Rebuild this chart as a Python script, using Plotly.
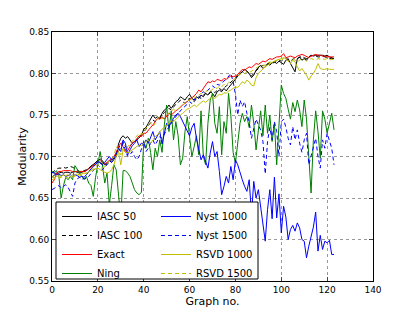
import plotly.graph_objects as go

graph_no = list(range(124))

iasc_50 = [0.675,0.678,0.680,0.680,0.681,0.680,0.681,0.681,0.680,0.681,0.682,0.681,0.680,0.681,0.682,0.683,0.686,0.688,0.690,0.692,
           0.695,0.697,0.695,0.690,0.692,0.695,0.693,0.696,0.700,0.715,0.722,0.725,0.722,0.724,0.720,0.716,0.718,0.720,0.722,0.725,
           0.733,0.735,0.740,0.745,0.750,0.746,0.748,0.745,0.752,0.756,0.758,0.762,0.758,0.762,0.766,0.768,0.772,0.770,0.768,0.772,
           0.775,0.770,0.768,0.772,0.770,0.774,0.772,0.776,0.774,0.778,0.776,0.772,0.778,0.780,0.778,0.782,0.779,0.783,0.786,0.790,
           0.793,0.797,0.800,0.803,0.805,0.803,0.800,0.795,0.798,0.804,0.807,0.810,0.806,0.808,0.812,0.810,0.813,0.814,0.812,0.815,
           0.813,0.811,0.816,0.818,0.812,0.806,0.802,0.818,0.820,0.816,0.818,0.816,0.820,0.822,0.821,0.822,0.822,0.822,0.822,0.821,
           0.822,0.820,0.819,0.818]

iasc_100 = [0.680,0.683,0.685,0.686,0.686,0.687,0.686,0.687,0.688,0.687,0.685,0.683,0.682,0.682,0.683,0.684,0.686,0.688,0.690,0.693,
            0.695,0.693,0.690,0.688,0.690,0.694,0.696,0.698,0.702,0.710,0.715,0.718,0.712,0.710,0.713,0.715,0.717,0.720,0.723,0.726,
            0.730,0.733,0.737,0.740,0.744,0.742,0.745,0.748,0.750,0.753,0.755,0.758,0.756,0.760,0.763,0.765,0.768,0.766,0.764,0.768,
            0.770,0.768,0.766,0.770,0.772,0.770,0.774,0.776,0.774,0.777,0.779,0.777,0.780,0.782,0.780,0.783,0.785,0.787,0.789,0.792,
            0.795,0.798,0.800,0.802,0.801,0.803,0.799,0.797,0.800,0.804,0.806,0.808,0.810,0.809,0.811,0.813,0.812,0.814,0.815,0.816,
            0.815,0.817,0.818,0.816,0.815,0.817,0.819,0.818,0.820,0.821,0.819,0.818,0.820,0.821,0.822,0.821,0.820,0.820,0.821,0.820,
            0.819,0.818,0.818,0.818]

exact = [0.668,0.672,0.680,0.682,0.682,0.683,0.683,0.683,0.683,0.682,0.682,0.682,0.682,0.682,0.682,0.683,0.685,0.687,0.690,0.692,
         0.694,0.695,0.693,0.691,0.693,0.695,0.697,0.700,0.705,0.712,0.716,0.712,0.705,0.707,0.712,0.716,0.718,0.722,0.725,0.724,
         0.728,0.728,0.732,0.735,0.738,0.742,0.746,0.745,0.748,0.745,0.748,0.752,0.750,0.753,0.755,0.757,0.760,0.762,0.764,0.766,
         0.768,0.770,0.773,0.776,0.780,0.778,0.782,0.786,0.790,0.789,0.791,0.790,0.793,0.792,0.791,0.794,0.793,0.795,0.797,0.796,
         0.797,0.799,0.802,0.805,0.804,0.806,0.808,0.807,0.810,0.812,0.811,0.813,0.815,0.814,0.816,0.818,0.817,0.819,0.820,0.820,
         0.821,0.824,0.819,0.820,0.821,0.820,0.819,0.821,0.822,0.823,0.822,0.820,0.819,0.821,0.822,0.823,0.822,0.822,0.821,0.821,
         0.820,0.820,0.820,0.820]

ning = [0.682,0.680,0.683,0.676,0.650,0.665,0.675,0.672,0.676,0.672,0.689,0.685,0.680,0.676,0.672,0.676,0.668,0.665,0.652,0.675,
        0.692,0.706,0.690,0.668,0.680,0.642,0.665,0.690,0.684,0.650,0.625,0.683,0.683,0.680,0.676,0.668,0.660,0.656,0.654,0.657,
        0.718,0.710,0.722,0.705,0.684,0.710,0.700,0.720,0.705,0.738,0.762,0.730,0.755,0.720,0.742,0.725,0.690,0.698,0.730,0.748,
        0.722,0.700,0.712,0.725,0.702,0.755,0.700,0.690,0.740,0.768,0.776,0.740,0.728,0.760,0.702,0.742,0.728,0.776,0.750,0.705,
        0.692,0.720,0.740,0.752,0.742,0.748,0.735,0.762,0.740,0.708,0.735,0.755,0.725,0.762,0.728,0.750,0.718,0.740,0.690,0.735,
        0.786,0.776,0.770,0.757,0.745,0.765,0.754,0.768,0.756,0.736,0.768,0.745,0.700,0.656,0.720,0.755,0.730,0.698,0.755,0.745,
        0.728,0.742,0.752,0.732]

nyst_1000 = [0.681,0.680,0.678,0.679,0.677,0.678,0.676,0.677,0.678,0.676,0.678,0.677,0.675,0.676,0.675,0.678,0.682,0.685,0.688,0.690,
             0.694,0.692,0.690,0.693,0.697,0.700,0.696,0.698,0.703,0.710,0.706,0.720,0.716,0.702,0.708,0.713,0.716,0.720,0.712,0.716,
             0.714,0.720,0.716,0.722,0.730,0.720,0.726,0.730,0.715,0.728,0.740,0.736,0.742,0.746,0.750,0.752,0.748,0.742,0.738,0.730,
             0.725,0.735,0.740,0.722,0.710,0.696,0.702,0.694,0.686,0.704,0.718,0.700,0.706,0.682,0.654,0.664,0.676,0.668,0.688,0.672,
             0.696,0.690,0.680,0.672,0.664,0.658,0.672,0.630,0.670,0.650,0.660,0.638,0.620,0.598,0.636,0.660,0.625,0.675,0.626,0.655,
             0.608,0.640,0.627,0.600,0.612,0.617,0.610,0.620,0.614,0.600,0.598,0.578,0.592,0.604,0.615,0.633,0.586,0.605,0.588,0.598,
             0.596,0.599,0.582,0.582]

nyst_1500 = [0.660,0.662,0.663,0.665,0.662,0.664,0.666,0.663,0.658,0.652,0.668,0.673,0.675,0.672,0.674,0.673,0.676,0.680,0.683,0.686,
             0.690,0.687,0.684,0.688,0.692,0.695,0.693,0.697,0.700,0.706,0.712,0.716,0.708,0.700,0.702,0.706,0.700,0.696,0.700,0.708,
             0.718,0.706,0.710,0.716,0.720,0.714,0.720,0.724,0.722,0.728,0.732,0.735,0.740,0.744,0.748,0.752,0.755,0.758,0.760,0.763,
             0.766,0.764,0.768,0.772,0.770,0.775,0.778,0.776,0.780,0.782,0.785,0.783,0.787,0.786,0.789,0.791,0.793,0.796,0.800,0.790,
             0.775,0.750,0.768,0.760,0.766,0.752,0.742,0.722,0.735,0.745,0.738,0.732,0.718,0.679,0.718,0.735,0.720,0.742,0.730,0.700,
             0.742,0.745,0.735,0.722,0.714,0.736,0.720,0.732,0.716,0.705,0.720,0.728,0.690,0.700,0.712,0.722,0.700,0.686,0.720,0.710,
             0.728,0.718,0.710,0.690]

rsvd_1000 = [0.676,0.674,0.676,0.677,0.676,0.678,0.677,0.678,0.676,0.678,0.677,0.679,0.678,0.679,0.680,0.680,0.682,0.683,0.684,0.685,
             0.686,0.684,0.682,0.681,0.680,0.681,0.684,0.690,0.700,0.706,0.690,0.708,0.706,0.704,0.706,0.708,0.710,0.712,0.714,0.713,
             0.716,0.718,0.720,0.716,0.720,0.724,0.726,0.730,0.733,0.735,0.738,0.740,0.743,0.742,0.745,0.748,0.750,0.752,0.755,0.757,
             0.758,0.760,0.762,0.760,0.763,0.765,0.767,0.765,0.768,0.770,0.772,0.770,0.773,0.775,0.774,0.777,0.776,0.779,0.780,0.782,
             0.784,0.783,0.787,0.790,0.788,0.792,0.790,0.786,0.785,0.795,0.800,0.803,0.806,0.808,0.810,0.812,0.814,0.815,0.816,0.817,
             0.818,0.819,0.818,0.815,0.812,0.816,0.814,0.808,0.803,0.806,0.802,0.798,0.792,0.797,0.800,0.805,0.812,0.806,0.805,0.805,
             0.806,0.805,0.805,0.805]

rsvd_1500 = [0.672,0.674,0.675,0.674,0.675,0.676,0.675,0.674,0.675,0.676,0.676,0.677,0.678,0.677,0.679,0.680,0.681,0.683,0.685,0.687,
             0.690,0.688,0.686,0.688,0.692,0.695,0.697,0.700,0.712,0.706,0.702,0.710,0.708,0.712,0.715,0.718,0.722,0.725,0.728,0.726,
             0.730,0.734,0.738,0.740,0.736,0.740,0.745,0.748,0.745,0.748,0.750,0.752,0.755,0.757,0.755,0.758,0.760,0.762,0.765,0.767,
             0.768,0.770,0.772,0.770,0.774,0.776,0.775,0.778,0.780,0.779,0.781,0.783,0.782,0.785,0.784,0.787,0.786,0.789,0.790,0.792,
             0.795,0.797,0.799,0.801,0.800,0.802,0.801,0.803,0.805,0.807,0.808,0.810,0.809,0.811,0.812,0.814,0.813,0.815,0.816,0.817,
             0.816,0.818,0.817,0.815,0.816,0.818,0.816,0.814,0.816,0.818,0.817,0.815,0.817,0.818,0.817,0.816,0.818,0.817,0.818,0.817,
             0.818,0.817,0.817,0.817]

x_ticks = [0, 20, 40, 60, 80, 100, 120, 140]
y_ticks = [0.55, 0.60, 0.65, 0.70, 0.75, 0.80, 0.85]

series = [
    ("IASC 50", iasc_50, "#000000", "solid", "legend"),
    ("IASC 100", iasc_100, "#000000", "4px,3px", "legend"),
    ("Exact", exact, "#FF0000", "solid", "legend"),
    ("Ning", ning, "#008000", "solid", "legend"),
    ("Nyst 1000", nyst_1000, "#0000FF", "solid", "legend2"),
    ("Nyst 1500", nyst_1500, "#0000FF", "4px,3px", "legend2"),
    ("RSVD 1000", rsvd_1000, "#BFBF00", "solid", "legend2"),
    ("RSVD 1500", rsvd_1500, "#BFBF00", "4px,3px", "legend2"),
]

fig = go.Figure()
for name, vals, color, dash, leg in series:
    fig.add_trace(go.Scatter(x=graph_no, y=vals, mode="lines", name=name,
                             line=dict(color=color, width=1, dash=dash),
                             legend=leg))

# The page body adds an 8px offset; plot area lands on 52..373 x 32..281 px of the window.
PW, PH = 321.0, 249.0
def px_x(p):
    return (p - 52) / PW
def px_y(p):
    return (281 - p) / PH

font = "DejaVu Sans, sans-serif"

# white legend frame enclosing both legend columns
fig.add_shape(type="rect", xref="paper", yref="paper", layer="above",
              x0=px_x(56), x1=px_x(258), y0=px_y(279), y1=px_y(202),
              fillcolor="white", opacity=1, line=dict(color="black", width=1))

leg_common = dict(orientation="v", xanchor="left", yanchor="top",
                  bgcolor="rgba(255,255,255,0)", borderwidth=0,
                  font=dict(family=font, size=10), tracegroupgap=0, itemwidth=30)

fig.update_layout(
    width=407, height=304,
    margin=dict(l=44, r=42, t=24, b=31, autoexpand=False),
    paper_bgcolor="white", plot_bgcolor="white",
    font=dict(family=font, size=9, color="black"),
    showlegend=True,
    legend=dict(x=px_x(57), y=px_y(202), **leg_common),
    legend2=dict(x=px_x(156), y=px_y(202), **leg_common),
    xaxis=dict(range=[0, 140], tickvals=x_ticks, ticks="inside", ticklen=4,
               showline=True, linecolor="black", linewidth=1, mirror="allticks",
               showgrid=True, gridcolor="#999999", griddash="dot", gridwidth=1,
               zeroline=False, title=dict(text="Graph no.", standoff=0),
               tickfont=dict(size=9), automargin=False),
    yaxis=dict(range=[0.55, 0.85], tickvals=y_ticks, tickformat=".2f", ticks="inside", ticklen=4,
               showline=True, linecolor="black", linewidth=1, mirror="allticks",
               showgrid=True, gridcolor="#999999", griddash="dot", gridwidth=1,
               zeroline=False, title=dict(text="Modularity", standoff=0),
               tickfont=dict(size=9), automargin=False),
)

fig.write_html("out.html")
